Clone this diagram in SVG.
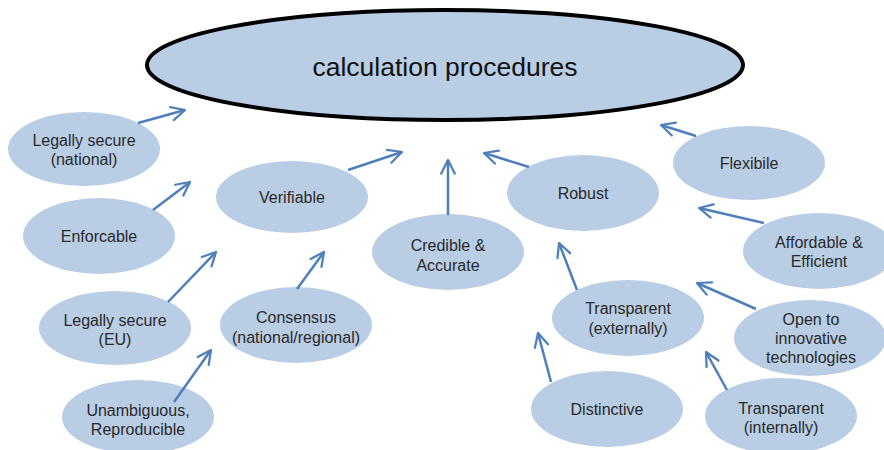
<svg xmlns="http://www.w3.org/2000/svg" width="884" height="450" viewBox="0 0 884 450">
<style>
  .n ellipse { fill: #b9cde5; }
  text { font-family: "Liberation Sans", Arial, sans-serif; font-size: 16px; fill: #2a2a2a; text-anchor: middle; dominant-baseline: central; }
  .title { font-size: 26.5px; fill: #111; }
  .c line { stroke: #4f7fbb; stroke-width: 2.5; marker-end: url(#ah); }
</style>
<defs>
  <marker id="ah" viewBox="0 0 20 20" refX="18" refY="10" markerWidth="18" markerHeight="18" markerUnits="userSpaceOnUse" orient="auto">
    <path d="M3,2.5 L18,10 L3,17.5" fill="none" stroke="#4f7fbb" stroke-width="2.5" stroke-linecap="round" stroke-linejoin="round"/>
  </marker>
</defs>
<rect width="884" height="450" fill="#ffffff"/>
<g id="main" class="n">
  <ellipse cx="445" cy="65" rx="298" ry="55" style="stroke:#000;stroke-width:4"/>
  <text class="title" x="445" y="67">calculation procedures</text>
</g>
<g id="legal-national" class="n"><ellipse cx="84" cy="149" rx="76" ry="37"/><text x="84" y="140">Legally secure</text><text x="84" y="159">(national)</text></g>
<g id="enforcable" class="n"><ellipse cx="99" cy="236" rx="76" ry="38"/><text x="99" y="236">Enforcable</text></g>
<g id="verifiable" class="n"><ellipse cx="292" cy="197" rx="76" ry="36"/><text x="292" y="197">Verifiable</text></g>
<g id="legal-eu" class="n"><ellipse cx="115" cy="328" rx="76" ry="37"/><text x="115" y="320">Legally secure</text><text x="115" y="339">(EU)</text></g>
<g id="consensus" class="n"><ellipse cx="296" cy="325" rx="76" ry="38"/><text x="296" y="317">Consensus</text><text x="296" y="337">(national/regional)</text></g>
<g id="unambiguous" class="n"><ellipse cx="138" cy="417" rx="76" ry="37"/><text x="138" y="410">Unambiguous,</text><text x="138" y="429">Reproducible</text></g>
<g id="credible" class="n"><ellipse cx="448" cy="252" rx="76" ry="38"/><text x="448" y="245">Credible &amp;</text><text x="448" y="265">Accurate</text></g>
<g id="robust" class="n"><ellipse cx="583" cy="193" rx="76" ry="38"/><text x="583" y="193">Robust</text></g>
<g id="flexibile" class="n"><ellipse cx="749" cy="163" rx="76" ry="37"/><text x="749" y="163">Flexibile</text></g>
<g id="affordable" class="n"><ellipse cx="819" cy="251" rx="76" ry="38"/><text x="819" y="242">Affordable &amp;</text><text x="819" y="261">Efficient</text></g>
<g id="transparent-ext" class="n"><ellipse cx="628" cy="318" rx="76" ry="38"/><text x="628" y="308">Transparent</text><text x="628" y="328">(externally)</text></g>
<g id="open" class="n"><ellipse cx="810" cy="338" rx="76" ry="38"/><text x="811" y="319">Open to</text><text x="811" y="338">innovative</text><text x="811" y="357">technologies</text></g>
<g id="distinctive" class="n"><ellipse cx="607" cy="409" rx="76" ry="38"/><text x="607" y="409">Distinctive</text></g>
<g id="transparent-int" class="n"><ellipse cx="781" cy="416" rx="76" ry="38"/><text x="781" y="408">Transparent</text><text x="781" y="427">(internally)</text></g>
<g id="connectors" class="c">
  <line x1="138" y1="123" x2="185" y2="110"/>
  <line x1="153" y1="210" x2="190" y2="182"/>
  <line x1="348" y1="170" x2="402" y2="152"/>
  <line x1="448" y1="215" x2="448" y2="160"/>
  <line x1="529" y1="167" x2="484" y2="153"/>
  <line x1="696" y1="136" x2="661" y2="125"/>
  <line x1="764" y1="223" x2="699" y2="208"/>
  <line x1="168" y1="302" x2="216" y2="252"/>
  <line x1="297" y1="289" x2="324" y2="252"/>
  <line x1="174" y1="402" x2="211" y2="350"/>
  <line x1="577" y1="290" x2="559" y2="243"/>
  <line x1="756" y1="309" x2="697" y2="283"/>
  <line x1="551" y1="382" x2="538" y2="333"/>
  <line x1="727" y1="390" x2="706" y2="352"/>
</g>
</svg>
